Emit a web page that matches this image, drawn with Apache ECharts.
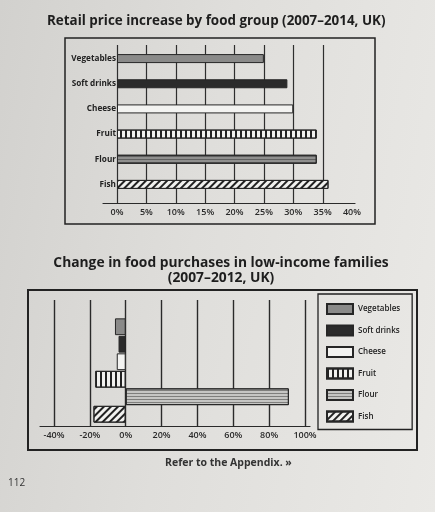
<!DOCTYPE html>
<html>
<head>
<meta charset="utf-8">
<script src="https://cdn.jsdelivr.net/npm/echarts@6/dist/echarts.min.js"></script>
<style>
html,body{margin:0;padding:0;}
body{width:435px;height:512px;background:linear-gradient(100deg,#d2d1ce 0%,#dfdedb 45%,#eae9e6 100%);}
#c{width:435px;height:512px;}
</style>
</head>
<body>
<div id="c"></div>
<script>
// ---- data ----
var categories = ['Vegetables', 'Soft drinks', 'Cheese', 'Fruit', 'Flour', 'Fish'];
var priceIncrease = [25, 29, 30, 34, 34, 36];        // % (2007–2014)
var purchaseChange = [-6, -4, -5, -17, 91, -18];     // % (2007–2012)
var priceTicks = [0, 40, 5];                          // min, max, step
var changeTicks = [-40, 100, 20];

// ---- styles ----
var FONT = '"Open Sans", "Noto Sans", sans-serif';
var INK = '#262626';
function styleFor(name, light) {
  var s = { borderColor: INK, borderWidth: 1 };
  if (name === 'Vegetables') { s.color = '#8a8a89'; }
  else if (name === 'Soft drinks') { s.color = '#2b2b2b'; }
  else if (name === 'Cheese') { s.color = '#f3f3f1'; }
  else if (name === 'Fruit') {
    s.color = '#f1f1ef';
    s.decal = { symbol: 'rect', symbolSize: 1, color: '#222', dashArrayX: [1.1, 2.4], dashArrayY: [6, 0] };
  } else if (name === 'Flour') {
    s.color = light ? '#c6c6c4' : '#8f8f8e';
    s.decal = { symbol: 'rect', symbolSize: 1, color: 'rgba(40,40,40,0.45)', dashArrayX: [6, 0], dashArrayY: [0.8, 1.6] };
  } else if (name === 'Fish') {
    s.color = '#f1f1ef';
    s.decal = { symbol: 'rect', symbolSize: 1, color: '#222', dashArrayX: [1.2, 3], dashArrayY: [6, 0], rotation: Math.PI / 4 };
  }
  return s;
}

var chart = echarts.init(document.getElementById('c'), null, { renderer: 'canvas' });

function hiddenY(gi) { return { gridIndex: gi, type: 'value', show: false }; }

var option = {
  backgroundColor: 'transparent',
  animation: false,
  title: [
    { text: 'Retail price increase by food group (2007–2014, UK)', left: 42, top: 10,
      textStyle: { fontFamily: FONT, fontWeight: 700, fontSize: 13.4, color: '#1e1e1e' } },
    { text: 'Change in food purchases in low-income families\n(2007–2012, UK)', left: 216, top: 251, textAlign: 'center',
      textStyle: { fontFamily: FONT, fontWeight: 700, fontSize: 13.8, lineHeight: 15, color: '#1e1e1e', align: 'center' } },
    { text: 'Refer to the Appendix. »', left: 160, top: 453,
      textStyle: { fontFamily: FONT, fontWeight: 700, fontSize: 10.5, color: '#333' } },
    { text: '112', left: 3, top: 473,
      textStyle: { fontFamily: FONT, fontWeight: 400, fontSize: 10, color: '#333' } }
  ],
  graphic: [
    { type: 'rect', shape: { x: 65, y: 38, width: 310, height: 186 }, style: { fill: 'none', stroke: '#222', lineWidth: 1.5 } },
    { type: 'rect', shape: { x: 28, y: 290, width: 389, height: 160 }, style: { fill: 'none', stroke: '#222', lineWidth: 2 } }
  ],
  legend: {
    orient: 'vertical', left: 318, top: 294,
    padding: [9, 12, 7, 8], itemGap: 9.5, itemWidth: 26, itemHeight: 10,
    borderColor: '#222', borderWidth: 1.3,
    icon: 'rect',
    data: categories,
    textStyle: { fontFamily: FONT, fontWeight: 600, fontSize: 8, color: '#222' }
  },
  grid: [
    { left: 117, right: 112, top: 45, height: 158 },   // 0 top gridlines (0–35)
    { left: 117, right: 83, top: 45, height: 158 },    // 1 top labels
    { left: 103, right: 80, top: 45, height: 158 },    // 2 top axis line
    { left: 117, right: 83, top: 46, height: 151 },    // 3 top bars
    { left: 54, right: 130, top: 300, height: 126 },   // 4 bottom gridlines + labels
    { left: 40, right: 125, top: 300, height: 126 },   // 5 bottom axis line
    { left: 54, right: 130, top: 318, height: 105 }    // 6 bottom bars
  ],
  xAxis: [
    { gridIndex: 0, type: 'value', min: priceTicks[0], max: priceTicks[1] - priceTicks[2], interval: priceTicks[2],
      axisLine: { show: false }, axisTick: { show: false }, axisLabel: { show: false },
      splitLine: { show: true, lineStyle: { color: '#2e2e2e', width: 1.2 } } },
    { gridIndex: 1, type: 'value', min: priceTicks[0], max: priceTicks[1], interval: priceTicks[2],
      axisLine: { show: false }, axisTick: { show: false }, splitLine: { show: false },
      axisLabel: { formatter: '{value}%', margin: 5, fontFamily: FONT, fontWeight: 600, fontSize: 9, color: '#2a2a2a' } },
    { gridIndex: 2, type: 'value', min: 0, max: 1,
      axisLine: { show: true, lineStyle: { color: '#2a2a2a', width: 1.2 } }, axisTick: { show: false },
      axisLabel: { show: false }, splitLine: { show: false } },
    { gridIndex: 3, type: 'value', min: priceTicks[0], max: priceTicks[1], show: false },
    { gridIndex: 4, type: 'value', min: changeTicks[0], max: changeTicks[1], interval: changeTicks[2],
      axisLine: { show: false }, axisTick: { show: false },
      splitLine: { show: true, lineStyle: { color: '#2a2a2a', width: 1.4 } },
      axisLabel: { formatter: '{value}%', margin: 5, fontFamily: FONT, fontWeight: 600, fontSize: 9, color: '#2a2a2a' } },
    { gridIndex: 5, type: 'value', min: 0, max: 1,
      axisLine: { show: true, lineStyle: { color: '#2a2a2a', width: 1.2 } }, axisTick: { show: false },
      axisLabel: { show: false }, splitLine: { show: false } },
    { gridIndex: 6, type: 'value', min: changeTicks[0], max: changeTicks[1], show: false }
  ],
  yAxis: [
    hiddenY(0), hiddenY(1), hiddenY(2),
    { gridIndex: 3, type: 'category', data: categories, inverse: true,
      axisLine: { show: false }, axisTick: { show: false },
      axisLabel: { margin: 1, fontFamily: FONT, fontWeight: 700, fontSize: 8.2, color: '#222' } },
    hiddenY(4), hiddenY(5),
    { gridIndex: 6, type: 'category', data: categories, inverse: true, show: false }
  ],
  series: [
    { type: 'bar', xAxisIndex: 3, yAxisIndex: 3, barWidth: 9, silent: true,
      data: categories.map(function (c, i) { return { value: priceIncrease[i], itemStyle: styleFor(c, false) }; }) }
  ].concat(categories.map(function (c, i) {
    return {
      name: c, type: 'bar', xAxisIndex: 6, yAxisIndex: 6, stack: 'change', barCategoryGap: '4%',
      itemStyle: styleFor(c, true),
      data: categories.map(function (_, j) { return j === i ? purchaseChange[i] : '-'; })
    };
  }))
};
chart.setOption(option);
</script>
</body>
</html>
